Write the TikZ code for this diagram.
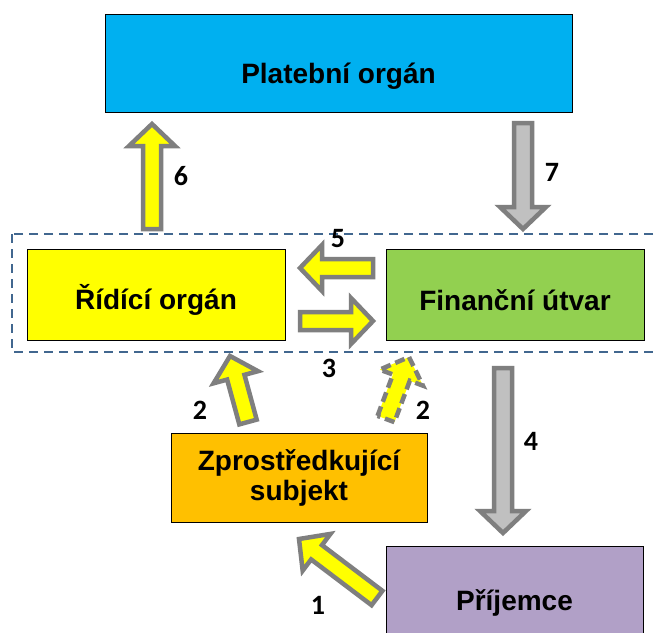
\documentclass[tikz,border=0pt]{standalone}
\usepackage{fontspec}
\setmainfont{Liberation Sans}
\newfontfamily\numfont{Carlito}
\usetikzlibrary{calc}
\definecolor{platblue}{HTML}{00B0F0}
\definecolor{ridyellow}{HTML}{FFFF00}
\definecolor{fingreen}{HTML}{92D050}
\definecolor{zproorange}{HTML}{FFC000}
\definecolor{prijpurple}{HTML}{B1A0C7}
\definecolor{arrgray}{HTML}{7F7F7F}
\definecolor{arrsilver}{HTML}{C0C0C0}
\definecolor{dashblue}{HTML}{41678F}
\newcommand\blockarrow[3]{%
  \coordinate (hb) at ($(#3)!22pt!(#2)$);
  \draw[#1] ($(#2)!9pt!90:(#3)$) -- ($(hb)!9pt!90:(#3)$) -- ($(hb)!23pt!90:(#3)$) -- (#3)
    -- ($(hb)!23pt!-90:(#3)$) -- ($(hb)!9pt!-90:(#3)$) -- ($(#2)!9pt!-90:(#3)$) -- cycle;}
\newcommand\lowtext[2]{\raisebox{-#1}[0pt][0pt]{#2}}
\begin{document}
\begin{tikzpicture}[x=1pt,y=-1pt,
  box/.style={draw=black, line width=1pt, inner sep=0pt, outer sep=0pt, align=center,
    font=\fontsize{28}{30}\selectfont\bfseries},
  yarrow/.style={draw=arrgray, fill=ridyellow, line width=4.5pt, miter limit=10},
  garrow/.style={draw=arrgray, fill=arrsilver, line width=4.5pt, miter limit=10},
  darrow/.style={draw=arrgray, fill=ridyellow, line width=4.5pt, dash pattern=on 10pt off 5pt},
  num/.style={font=\numfont\fontsize{28}{30}\selectfont\bfseries, inner sep=0pt},
  dashframe/.style={draw=dashblue, line width=2pt, dash pattern=on 9pt off 6pt}]
\useasboundingbox (0,0) rectangle (656,632);
\fill[white] (0,0) rectangle (656,632);
% group frame
\draw[dashframe] (12,234) rectangle (672,352);
% boxes
\node[box, fill=platblue, minimum width=467pt, minimum height=98pt] (plat) at (338.5,63) {\lowtext{20pt}{Platební orgán}};
\node[box, fill=ridyellow, minimum width=258pt, minimum height=91pt] (rid) at (156,294.5) {\lowtext{14.5pt}{Řídící orgán}};
\node[box, fill=fingreen, minimum width=258pt, minimum height=91pt] (fin) at (515,294.5) {\lowtext{16pt}{Finanční útvar}};
\node[box, fill=zproorange, minimum width=256pt, minimum height=89pt] (zpr) at (299,477.5) {Zprostředkující\\subjekt};
\node[box, fill=prijpurple, minimum width=257pt, minimum height=104pt] (prij) at (514.5,598) {\lowtext{12pt}{Příjemce}};
% arrow end points
\coordinate (a6s) at (152,229); \coordinate (a6e) at (152,124);
\coordinate (a7s) at (523,123); \coordinate (a7e) at (523,229);
\coordinate (a5s) at (373,268); \coordinate (a5e) at (300,268);
\coordinate (a3s) at (300,321); \coordinate (a3e) at (373,321);
\coordinate (a2ls) at (248,422); \coordinate (a2le) at (230,356);
\coordinate (a2rs) at (386,419); \coordinate (a2re) at (409,357);
\coordinate (a4s) at (503,368); \coordinate (a4e) at (503,533);
\coordinate (a1s) at (377,598); \coordinate (a1e) at (299,539);
% arrows
\blockarrow{yarrow}{a6s}{a6e}
\blockarrow{garrow}{a7s}{a7e}
\blockarrow{yarrow}{a5s}{a5e}
\blockarrow{yarrow}{a3s}{a3e}
\blockarrow{yarrow}{a2ls}{a2le}
\blockarrow{darrow}{a2rs}{a2re}
\blockarrow{garrow}{a4s}{a4e}
\blockarrow{yarrow}{a1s}{a1e}
% labels
\node[num] (n6) at (181,176) {6};
\node[num] (n7) at (552,172) {7};
\node[num] (n5) at (338,239) {5};
\node[num] (n3) at (329,368) {3};
\node[num] (n2l) at (200,410) {2};
\node[num] (n2r) at (423,410) {2};
\node[num] (n4) at (531,441) {4};
\node[num] (n1) at (318,605) {1};
\end{tikzpicture}
\end{document}
